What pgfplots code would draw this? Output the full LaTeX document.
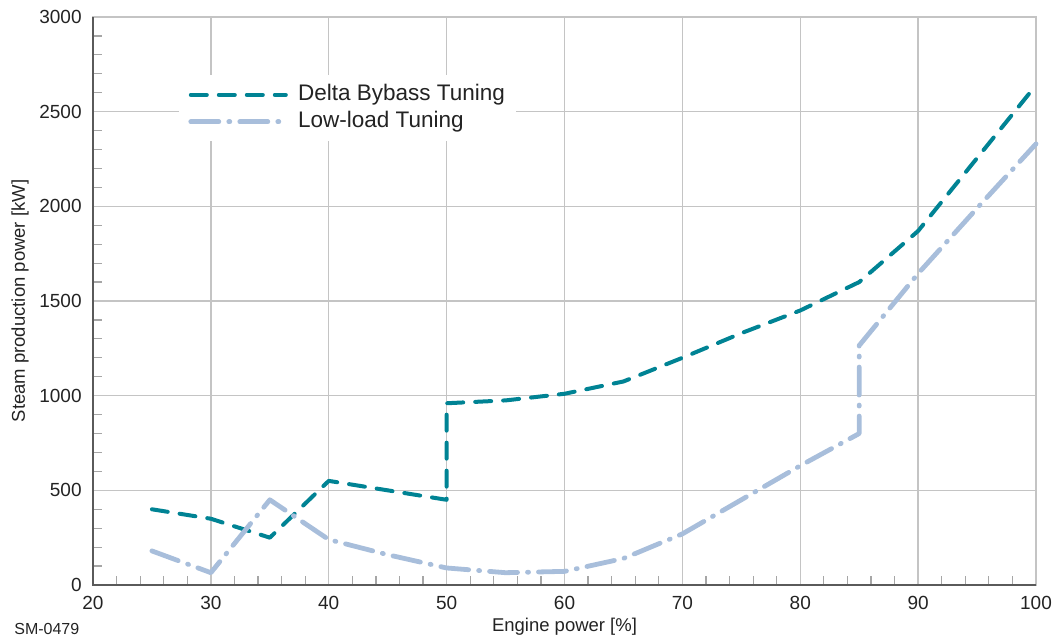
\documentclass[border=0pt]{standalone}
\usepackage{fontspec}
\setmainfont{Liberation Sans}
\usepackage{pgfplots}
\pgfplotsset{compat=1.18}
\definecolor{teal1}{RGB}{0,131,148}
\definecolor{lblue}{RGB}{168,190,219}
\definecolor{gridc}{RGB}{196,196,196}
\definecolor{axc}{RGB}{90,90,90}
\definecolor{txt}{RGB}{35,35,35}
\begin{document}
\begin{tikzpicture}
\useasboundingbox (-46.5pt,-26.5pt) rectangle (485pt,292.5pt);
\begin{axis}[
  scale only axis, width=471.5pt, height=284pt,
  xmin=20, xmax=100, ymin=0, ymax=3000,
  xtick={20,30,...,100}, ytick={0,500,...,3000},
  minor x tick num=4, minor y tick num=4,
  grid=major, major grid style={gridc, line width=0.65pt},
  axis line style={gridc, line width=0.65pt},
  tick pos=left, tick align=inside,
  major tick length=0pt, minor tick length=4.5pt,
  minor tick style={black!35, line width=0.6pt},
  clip=false,
  /pgf/number format/assume math mode=true,
  /pgf/number format/1000 sep={},
  tick label style={font=\fontsize{9.5}{11}\selectfont, text=txt},
  xticklabel style={anchor=base, yshift=-12pt, inner sep=0pt},
  yticklabel style={anchor=east, xshift=-5.5pt, inner sep=0pt},
  xlabel={Engine power [\%]},
  ylabel={Steam production power [kW]},
  xlabel style={at={(axis description cs:0.5,-0.0827)}, anchor=base, font=\fontsize{9.25}{11}\selectfont, text=txt},
  ylabel style={at={(axis description cs:-0.0774,0.5)}, anchor=center, font=\fontsize{9.25}{11}\selectfont, text=txt},
  legend style={at={(axis description cs:0.0912,0.898)}, anchor=north west, draw=none, fill=white,
    inner xsep=4.5pt, inner ysep=3.5pt, font=\fontsize{11.25}{13.5}\selectfont, text=txt,
    row sep=1pt, column sep=4pt, nodes={inner sep=1pt, text height=8pt, text depth=2.5pt}},
  legend cell align=left,
  legend image code/.code={\draw[#1] (0pt,0pt) -- (47.5pt,0pt);},
]
\addplot[teal1, line width=2pt, line cap=round, line join=round, dash pattern=on 8pt off 6pt]
  coordinates {(25,400)(30,350)(35,250)(40,550)(45,500)(50,450)(50,960)(55,975)(60,1010)(65,1075)(70,1200)(75,1330)(80,1450)(85,1600)(90,1870)(100,2640)};
\addlegendentry{Delta Bybass Tuning}
\addplot[lblue, line width=2.4pt, line cap=round, line join=round, dash pattern=on 14pt off 5pt on 0.5pt off 5pt]
  coordinates {(25,180)(30,65)(35,450)(40,240)(45,160)(50,90)(55,65)(60,72)(65,140)(70,270)(75,450)(80,630)(85,800)(85,1265)(90,1645)(95,1990)(100,2330)};
\addlegendentry{Low-load Tuning}
\draw[axc, line width=1pt] (axis description cs:0,1) -- (axis description cs:0,0) -- (axis description cs:1,0);
\node[anchor=base west, font=\fontsize{8}{9.6}\selectfont, text=txt, inner sep=0pt] at (axis description cs:-0.0838,-0.088) {SM-0479};
\end{axis}
\end{tikzpicture}
\end{document}
